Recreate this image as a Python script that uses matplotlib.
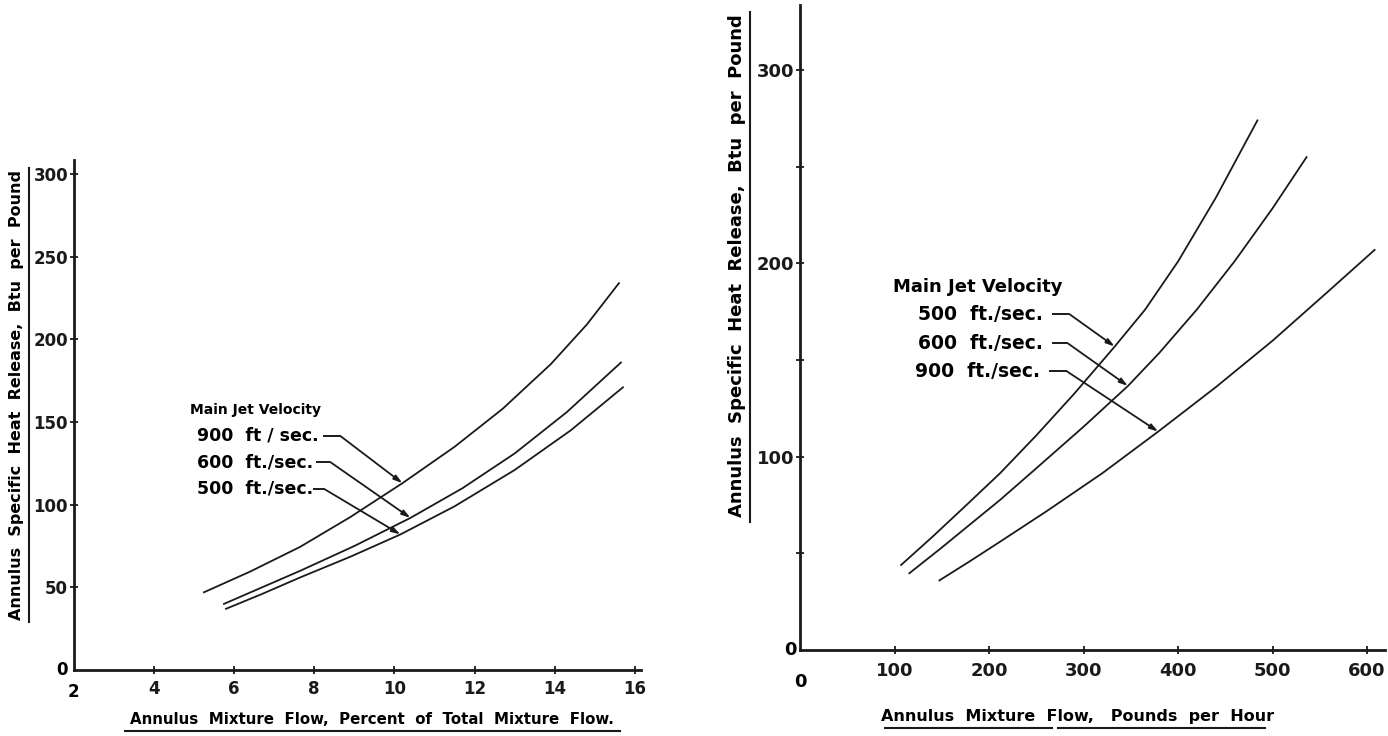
import matplotlib
matplotlib.use('Agg')
import matplotlib.pyplot as plt
from matplotlib.lines import Line2D

plt.rcParams['font.family'] = ['DejaVu Sans']
plt.rcParams['font.weight'] = 'bold'

# ── Data ──────────────────────────────────────────────────────────────────────
# Left panel: percent of total mixture flow vs Btu per pound
pct_900 = [5.25, 6.4, 7.65, 8.9, 10.2, 11.5, 12.7, 13.9, 14.8, 15.6]
btu_900 = [47, 59.5, 74.5, 92.5, 113, 135, 158, 185, 209, 234]
pct_600 = [5.75, 6.7, 7.65, 9.0, 10.4, 11.7, 13.0, 14.3, 15.65]
btu_600 = [40, 50, 60, 75, 92, 110, 131, 156, 186]
pct_500 = [5.8, 6.7, 7.65, 8.9, 10.15, 11.5, 13.0, 14.4, 15.7]
btu_500 = [37, 46, 56, 68.5, 82, 99, 121, 145, 171]

# Right panel: pounds per hour vs Btu per pound
lb_500 = [107, 140, 175, 211.6, 250, 290, 333, 365, 400, 440, 484]
rbtu_500 = [44, 58.5, 74.5, 91.4, 111, 132.5, 157, 176, 201, 234, 274]
lb_600 = [115.7, 150, 180, 211.6, 250, 300, 347, 380, 420, 460, 500, 536]
rbtu_600 = [39.7, 53, 65, 77.6, 94, 115.5, 136.6, 153.6, 176.2, 201.2, 228.5, 255]
lb_900 = [147.5, 180, 211.6, 260, 320, 379, 440, 500, 560, 608]
rbtu_900 = [36, 46, 56, 71.5, 91.5, 113, 136, 160, 186, 207]

LEFT_XTICKS = [4, 6, 8, 10, 12, 14, 16]
LEFT_YTICKS = [50, 100, 150, 200, 250, 300]
RIGHT_XTICKS = [100, 200, 300, 400, 500, 600]
RIGHT_YTICKS = [100, 200, 300]
RIGHT_YMINOR = [50, 150, 250]

INK = "#1a1a1a"
W, H = 1388, 736

fig = plt.figure(figsize=(W / 100, H / 100), dpi=100)
fig.patch.set_facecolor("white")

def px(x, y):
    return x / W, 1 - y / H

def style_axes(ax):
    for s in ["top", "right"]:
        ax.spines[s].set_visible(False)
    for s in ["left", "bottom"]:
        ax.spines[s].set_linewidth(2.0)
        ax.spines[s].set_color(INK)
    ax.tick_params(direction="inout", length=6, width=1.3, colors=INK,
                   labelsize=12, pad=1)
    ax.set_facecolor("white")

def leader(ax, x0, y0, x1, target):
    # short dash after the label, then a diagonal line ending on the curve
    ax.plot([x0, x1], [y0, y0], color=INK, lw=1.4, solid_capstyle="butt")
    ax.annotate("", xy=target, xytext=(x1, y0),
                arrowprops=dict(arrowstyle="-|>,head_length=0.5,head_width=0.15",
                                color=INK, lw=1.3, shrinkA=0, shrinkB=0))

# ── Left panel ────────────────────────────────────────────────────────────────
axL = fig.add_axes([73.6 / W, 1 - 670 / H, 567.4 / W, 510 / H])
style_axes(axL)
axL.set_xlim(2, 16.15)
axL.set_ylim(0, 308.5)
for xs, ys in [(pct_900, btu_900), (pct_600, btu_600), (pct_500, btu_500)]:
    axL.plot(xs, ys, color=INK, lw=1.3)
axL.set_xticks(LEFT_XTICKS)
axL.set_yticks(LEFT_YTICKS)
axL.set_xticklabels([str(t) for t in LEFT_XTICKS], fontweight="bold")
axL.set_yticklabels([str(t) for t in LEFT_YTICKS], fontweight="bold")
axL.tick_params(axis="x", pad=4)
axL.text(1.85, 0, "0", ha="right", va="center", fontsize=12, fontweight="bold")
axL.text(2.0, -8, "2", ha="center", va="top", fontsize=12, fontweight="bold")

axL.text(4.9, 157, "Main Jet Velocity", fontsize=10, fontweight="bold", va="center")
axL.text(5.08, 141.6, "900  ft / sec.", fontsize=12.5, fontweight="bold", va="center")
axL.text(5.08, 125.8, "600  ft./sec.", fontsize=12.5, fontweight="bold", va="center")
axL.text(5.08, 109.5, "500  ft./sec.", fontsize=12.5, fontweight="bold", va="center")
leader(axL, 8.22, 141.6, 8.65, (pct_900[4], btu_900[4]))
leader(axL, 8.05, 125.8, 8.4, (pct_600[4], btu_600[4]))
leader(axL, 7.98, 109.5, 8.25, (pct_500[4], btu_500[4]))

# ── Right panel ───────────────────────────────────────────────────────────────
axR = fig.add_axes([800 / W, 1 - 650 / H, 585 / W, 645 / H])
style_axes(axR)
axR.set_xlim(0, 619)
axR.set_ylim(0, 333.7)
for xs, ys in [(lb_500, rbtu_500), (lb_600, rbtu_600), (lb_900, rbtu_900)]:
    axR.plot(xs, ys, color=INK, lw=1.3)
axR.set_xticks(RIGHT_XTICKS)
axR.set_yticks(RIGHT_YTICKS)
axR.set_yticks(RIGHT_YMINOR, minor=True)
axR.tick_params(which="minor", direction="inout", length=6, width=1.3, colors=INK)
axR.set_xticklabels([str(t) for t in RIGHT_XTICKS], fontweight="bold")
axR.set_yticklabels([str(t) for t in RIGHT_YTICKS], fontweight="bold")
axR.tick_params(labelsize=13)
axR.tick_params(axis="x", pad=6)
axR.text(-4, 0, "0", ha="right", va="center", fontsize=13, fontweight="bold")
axR.text(0, -12, "0", ha="center", va="top", fontsize=13, fontweight="bold")

axR.text(98.4, 187.8, "Main Jet Velocity", fontsize=13, fontweight="bold", va="center")
axR.text(124.9, 173.8, "500  ft./sec.", fontsize=13.5, fontweight="bold", va="center")
axR.text(124.9, 158.8, "600  ft./sec.", fontsize=13.5, fontweight="bold", va="center")
axR.text(121.7, 144.3, "900  ft./sec.", fontsize=13.5, fontweight="bold", va="center")
leader(axR, 267, 173.8, 285, (lb_500[6], rbtu_500[6]))
leader(axR, 267, 158.8, 283, (lb_600[6], rbtu_600[6]))
leader(axR, 264, 144.3, 282, (lb_900[5], rbtu_900[5]))

# ── Axis titles with underlines ───────────────────────────────────────────────
fig.text(*px(372, 719), "Annulus  Mixture  Flow,  Percent  of  Total  Mixture  Flow.",
         ha="center", va="center", fontsize=10.8, fontweight="bold")
fig.add_artist(Line2D([125 / W, 620 / W], [1 - 731 / H] * 2, color=INK, lw=1.5))

fig.text(*px(1078, 717), "Annulus  Mixture  Flow,   Pounds  per  Hour",
         ha="center", va="center", fontsize=11.5, fontweight="bold")
fig.add_artist(Line2D([885 / W, 1052 / W], [1 - 728 / H] * 2, color=INK, lw=1.5))
fig.add_artist(Line2D([1058 / W, 1265 / W], [1 - 728 / H] * 2, color=INK, lw=1.5))

fig.text(*px(17, 395), "Annulus  Specific  Heat  Release,  Btu  per  Pound",
         ha="center", va="center", rotation=90, fontsize=11.5, fontweight="bold")
fig.add_artist(Line2D([29 / W] * 2, [1 - 622 / H, 1 - 168 / H], color=INK, lw=1.5))

fig.text(*px(737, 266), "Annulus  Specific  Heat  Release,  Btu  per  Pound",
         ha="center", va="center", rotation=90, fontsize=13, fontweight="bold")
fig.add_artist(Line2D([750 / W] * 2, [1 - 522 / H, 1 - 12 / H], color=INK, lw=1.5))

fig.savefig("out.png", dpi=100, facecolor="white")
